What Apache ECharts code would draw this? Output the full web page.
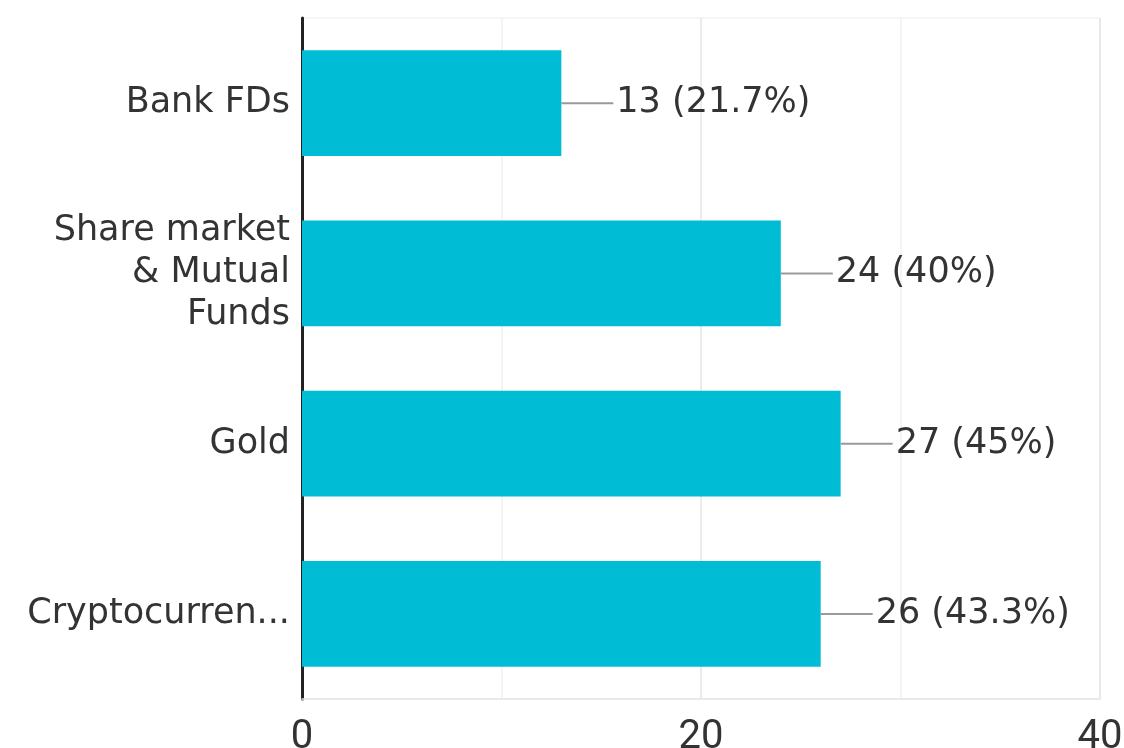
<!DOCTYPE html>
<html>
<head>
<meta charset="utf-8">
<script src="https://cdn.jsdelivr.net/npm/echarts@6/dist/echarts.min.js"></script>
<style>
  html, body { margin: 0; padding: 0; background: #fff; }
  #chart { width: 1124px; height: 748px; }
</style>
</head>
<body>
<div id="chart"></div>
<script>
// Responses per investment option
const categories = ['Bank FDs', 'Share market\n& Mutual\nFunds', 'Gold', 'Cryptocurren...'];
const counts = [13, 24, 27, 26];
const percents = ['21.7%', '40%', '45%', '43.3%'];
const tickLabels = { 0: '0', 20: '20', 40: '40' };

const labelFont = 'DejaVu Sans';

const chart = echarts.init(document.getElementById('chart'));
chart.setOption({
  animation: false,
  textStyle: { fontFamily: 'Roboto' },
  grid: {
    left: 302, right: 24, top: 18, bottom: 49,
    outerBoundsMode: 'none',
    containLabel: false,
    show: true, borderColor: '#ececec', borderWidth: 1, backgroundColor: 'transparent'
  },
  xAxis: {
    type: 'value',
    min: 0, max: 40, interval: 10,
    axisLine: { show: true, lineStyle: { color: '#e6e6e6', width: 1.5 } },
    axisTick: { show: false },
    splitLine: { show: true, lineStyle: { color: ['#e6e6e6', '#f0f0f0', '#e4e4e4', '#f0f0f0', '#e4e4e4'], width: 1.5 } },
    axisLabel: {
      formatter: v => tickLabels[v] !== undefined ? tickLabels[v] : '',
      color: '#333', fontSize: 40, margin: 19, fontFamily: 'Roboto'
    }
  },
  yAxis: {
    type: 'category',
    inverse: true,
    data: categories,
    axisLine: { show: true, lineStyle: { color: '#222', width: 3 } },
    axisTick: { show: false },
    axisLabel: { color: '#333', fontSize: 35, lineHeight: 42, margin: 12, align: 'right', fontFamily: labelFont }
  },
  series: [{
    type: 'bar',
    data: counts,
    barCategoryGap: '38%',
    itemStyle: { color: '#00bcd4' },
    label: {
      show: true,
      position: 'right',
      distance: 0,
      formatter: p => '{l|}{t|' + counts[p.dataIndex] + ' (' + percents[p.dataIndex] + ')}',
      rich: {
        l: { width: 52, height: 2, backgroundColor: '#9a9a9a' },
        t: { color: '#333', fontSize: 35, fontFamily: labelFont, padding: [0, 0, 0, 3] }
      }
    }
  }]
});
</script>
</body>
</html>
